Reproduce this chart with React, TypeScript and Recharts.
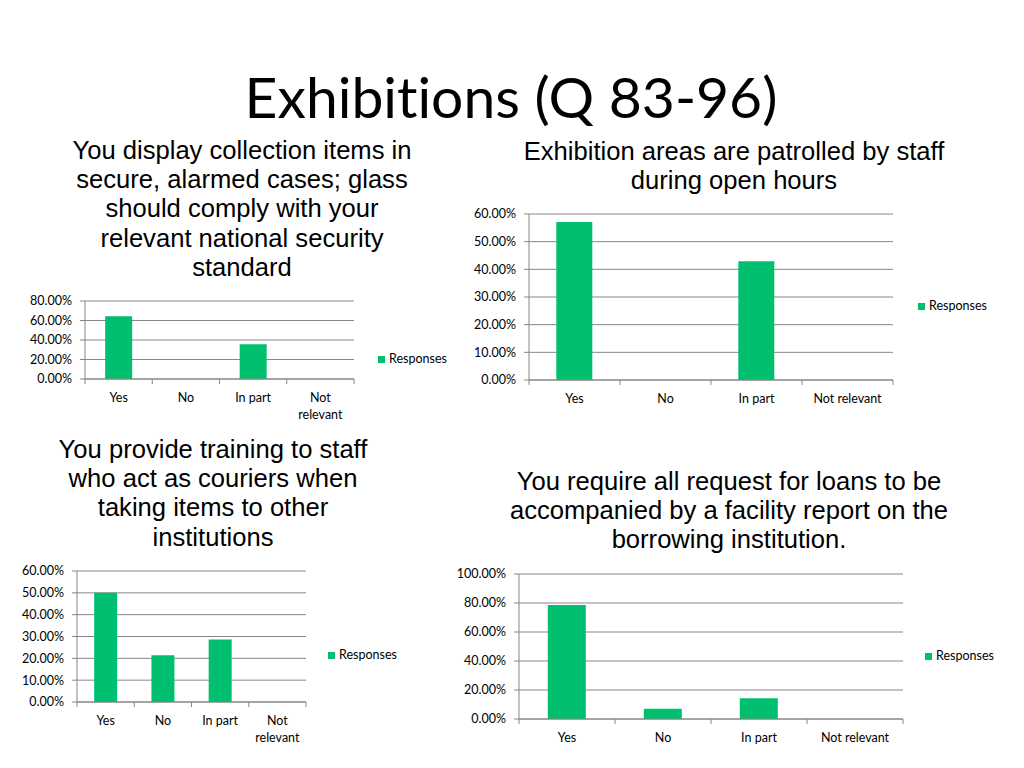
import React from 'react';
import { BarChart, Bar, XAxis, YAxis, CartesianGrid, Legend } from 'recharts';

const categories = ['Yes', 'No', 'In part', 'Not relevant'];
const displayCases = [0.643, 0, 0.357, 0];
const patrolled = [0.571, 0, 0.429, 0];
const couriers = [0.5, 0.214, 0.286, 0];
const facilityReport = [0.786, 0.071, 0.143, 0];

const ticks80 = [0, 0.2, 0.4, 0.6, 0.8];
const ticks60 = [0, 0.1, 0.2, 0.3, 0.4, 0.5, 0.6];
const ticks100 = [0, 0.2, 0.4, 0.6, 0.8, 1.0];

const seriesName = 'Responses';
const BAR = '#00BF6F';
const GRID = '#878787';
const TICK_FONT = 12.5;

const pct = (v: number) => (v * 100).toFixed(2) + '%';

function CatTick(props: any) {
  const { x, y, payload, index, band, wrap } = props;
  const label: string = payload.value;
  const lines = wrap && label.length > 8 ? label.split(' ') : [label];
  return (
    <g>
      <line x1={x - band / 2} y1={y} x2={x - band / 2} y2={y + 5} stroke={GRID} />
      {index === categories.length - 1 && (
        <line x1={x + band / 2} y1={y} x2={x + band / 2} y2={y + 5} stroke={GRID} />
      )}
      {lines.map((l, i) => (
        <text
          key={i}
          x={x}
          y={y + 18.5 + i * 17}
          textAnchor="middle"
          dominantBaseline="central"
          fill="#000"
          fontSize={TICK_FONT}
        >
          {l}
        </text>
      ))}
    </g>
  );
}

type ChartProps = {
  values: number[];
  ticks: number[];
  left: number;
  top: number;
  width: number;
  height: number;
  plotLeft: number;
  plotRight: number;
  plotTop: number;
  plotBottom: number;
  legendX: number;
  legendY: number;
  wrap: boolean;
};

function SmallChart(p: ChartProps) {
  const data = categories.map((c, i) => ({ name: c, value: p.values[i] }));
  const band = (p.plotRight - p.plotLeft) / categories.length;
  const yAxisWidth = p.plotLeft - p.left;
  const mRight = p.left + p.width - p.plotRight;
  const mTop = p.plotTop - p.top;
  const xAxisHeight = p.top + p.height - p.plotBottom;
  return (
    <div style={{ position: 'absolute', left: p.left, top: p.top }}>
      <BarChart
        width={p.width}
        height={p.height}
        data={data}
        margin={{ top: mTop, right: mRight, bottom: 0, left: 0 }}
        barCategoryGap="30%"
      >
        <CartesianGrid horizontal vertical={false} stroke={GRID} strokeDasharray="" />
        <XAxis
          dataKey="name"
          height={xAxisHeight}
          stroke={GRID}
          tickLine={false}
          tickSize={0}
          tickMargin={0}
          interval={0}
          tick={(tp: any) => <CatTick {...tp} band={band} wrap={p.wrap} />}
        />
        <YAxis
          width={yAxisWidth}
          domain={[0, p.ticks[p.ticks.length - 1]]}
          ticks={p.ticks}
          interval={0}
          tickFormatter={pct}
          stroke={GRID}
          tickSize={5}
          tickMargin={8}
          tick={{ fill: '#000', fontSize: TICK_FONT }}
        />
        <Legend
          layout="horizontal"
          align="center"
          verticalAlign="middle"
          iconType="square"
          iconSize={7}
          formatter={(v: any) => <span style={{ color: '#000' }}>{v}</span>}
          wrapperStyle={{
            left: p.legendX - p.left,
            top: p.legendY - p.top - 8,
            width: 'auto',
            fontSize: TICK_FONT,
            lineHeight: '16px',
          }}
        />
        <Bar dataKey="value" name={seriesName} fill={BAR} legendType="square" isAnimationActive={false} />
      </BarChart>
    </div>
  );
}

const titleStyle: React.CSSProperties = {
  position: 'absolute',
  width: 520,
  textAlign: 'center',
  fontFamily: '"Liberation Sans", Arial, sans-serif',
  fontSize: 25.6,
  lineHeight: '29.4px',
  color: '#000',
};

export default function App() {
  return (
    <div
      style={{
        position: 'absolute',
        left: 0,
        top: 0,
        width: 1024,
        height: 768,
        background: '#fff',
        fontFamily: 'Lato, sans-serif',
        overflow: 'hidden',
      }}
    >
      <div
        style={{
          position: 'absolute',
          left: 0,
          top: 62,
          width: 1022,
          textAlign: 'center',
          fontFamily: 'Lato, sans-serif',
          fontSize: 57,
          lineHeight: '68px',
          color: '#000',
          fontVariantLigatures: 'none',
          fontFeatureSettings: '"liga" 0, "clig" 0',
        }}
      >
        Exhibitions (Q 83-96)
      </div>

      <div style={{ ...titleStyle, left: 242 - 260, top: 135.5 }}>
        You display collection items in<br />secure, alarmed cases; glass<br />should comply with your<br />relevant national security<br />standard
      </div>
      <div style={{ ...titleStyle, left: 734 - 260, top: 136.5 }}>
        Exhibition areas are patrolled by staff<br />during open hours
      </div>
      <div style={{ ...titleStyle, left: 213 - 260, top: 434.5 }}>
        You provide training to staff<br />who act as couriers when<br />taking items to other<br />institutions
      </div>
      <div style={{ ...titleStyle, left: 729 - 260, top: 466.5 }}>
        You require all request for loans to be<br />accompanied by a facility report on the<br />borrowing institution.
      </div>

      <SmallChart
        values={displayCases}
        ticks={ticks80}
        left={0}
        top={290}
        width={460}
        height={140}
        plotLeft={85}
        plotRight={354}
        plotTop={301}
        plotBottom={379}
        legendX={378}
        legendY={359}
        wrap
      />
      <SmallChart
        values={patrolled}
        ticks={ticks60}
        left={440}
        top={200}
        width={580}
        height={230}
        plotLeft={529}
        plotRight={893}
        plotTop={214}
        plotBottom={380}
        legendX={918}
        legendY={306}
        wrap={false}
      />
      <SmallChart
        values={couriers}
        ticks={ticks60}
        left={0}
        top={560}
        width={420}
        height={200}
        plotLeft={77}
        plotRight={306}
        plotTop={571}
        plotBottom={702}
        legendX={328}
        legendY={655}
        wrap
      />
      <SmallChart
        values={facilityReport}
        ticks={ticks100}
        left={440}
        top={560}
        width={580}
        height={200}
        plotLeft={519}
        plotRight={903}
        plotTop={574}
        plotBottom={719}
        legendX={925}
        legendY={656}
        wrap={false}
      />
    </div>
  );
}
